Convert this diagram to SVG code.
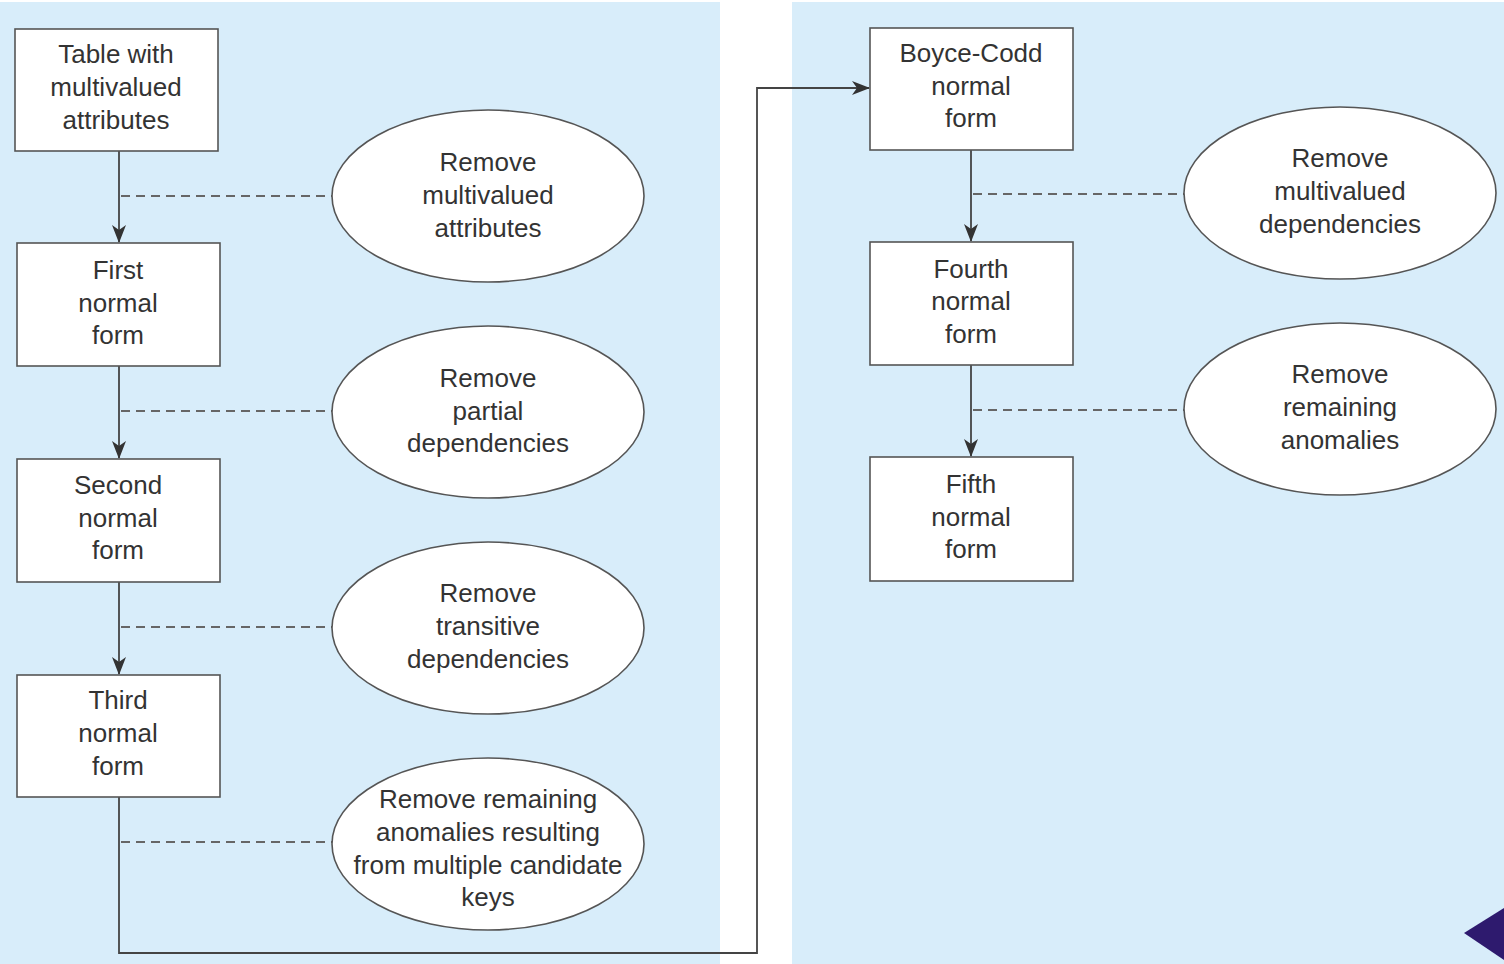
<svg xmlns="http://www.w3.org/2000/svg" width="1504" height="964" viewBox="0 0 1504 964">
<defs>
<style>
.bg{fill:#d8edfa}
.box{fill:#fff;stroke:#555;stroke-width:1.6}
.ell{fill:#fff;stroke:#555;stroke-width:1.6}
.t{font-family:"Liberation Sans",Arial,sans-serif;font-size:26px;fill:#333;text-anchor:middle}
.ln{fill:none;stroke:#444;stroke-width:1.8}
.dash{fill:none;stroke:#666;stroke-width:1.8;stroke-dasharray:9 6}
</style>
<marker id="ah" viewBox="0 0 18 14" refX="17" refY="7" markerWidth="18" markerHeight="14" markerUnits="userSpaceOnUse" orient="auto">
<path d="M0,0 L18,7 L0,14 L5,7 z" fill="#333"/>
</marker>
</defs>
<rect width="1504" height="964" fill="#fff"/>
<rect class="bg" x="0" y="2" width="720" height="962"/>
<rect class="bg" x="792" y="2" width="712" height="962"/>

<g id="connectors">
<line class="ln" x1="119" y1="151" x2="119" y2="242" marker-end="url(#ah)"/>
<line class="ln" x1="119" y1="366" x2="119" y2="458" marker-end="url(#ah)"/>
<line class="ln" x1="119" y1="582" x2="119" y2="674" marker-end="url(#ah)"/>
<polyline class="ln" points="119,797 119,953 757,953 757,88 869,88" marker-end="url(#ah)"/>
<line class="ln" x1="971" y1="150" x2="971" y2="241" marker-end="url(#ah)"/>
<line class="ln" x1="971" y1="365" x2="971" y2="456" marker-end="url(#ah)"/>
<line class="dash" x1="121" y1="196" x2="332" y2="196"/>
<line class="dash" x1="121" y1="411" x2="332" y2="411"/>
<line class="dash" x1="121" y1="627" x2="332" y2="627"/>
<line class="dash" x1="121" y1="842" x2="332" y2="842"/>
<line class="dash" x1="973" y1="194" x2="1184" y2="194"/>
<line class="dash" x1="973" y1="410" x2="1184" y2="410"/>
</g>

<g id="n-table"><rect class="box" x="15" y="29" width="203" height="122"/>
<text class="t" x="116" y="63">Table with</text><text class="t" x="116" y="96">multivalued</text><text class="t" x="116" y="129">attributes</text></g>
<g id="n-1nf"><rect class="box" x="17" y="243" width="203" height="123"/>
<text class="t" x="118" y="279">First</text><text class="t" x="118" y="312">normal</text><text class="t" x="118" y="344">form</text></g>
<g id="n-2nf"><rect class="box" x="17" y="459" width="203" height="123"/>
<text class="t" x="118" y="494">Second</text><text class="t" x="118" y="527">normal</text><text class="t" x="118" y="559">form</text></g>
<g id="n-3nf"><rect class="box" x="17" y="675" width="203" height="122"/>
<text class="t" x="118" y="709">Third</text><text class="t" x="118" y="742">normal</text><text class="t" x="118" y="775">form</text></g>
<g id="n-bcnf"><rect class="box" x="870" y="28" width="203" height="122"/>
<text class="t" x="971" y="62">Boyce-Codd</text><text class="t" x="971" y="95">normal</text><text class="t" x="971" y="127">form</text></g>
<g id="n-4nf"><rect class="box" x="870" y="242" width="203" height="123"/>
<text class="t" x="971" y="278">Fourth</text><text class="t" x="971" y="310">normal</text><text class="t" x="971" y="343">form</text></g>
<g id="n-5nf"><rect class="box" x="870" y="457" width="203" height="124"/>
<text class="t" x="971" y="493">Fifth</text><text class="t" x="971" y="526">normal</text><text class="t" x="971" y="558">form</text></g>

<g id="e-1"><ellipse class="ell" cx="488" cy="196" rx="156" ry="86"/>
<text class="t" x="488" y="171">Remove</text><text class="t" x="488" y="204">multivalued</text><text class="t" x="488" y="237">attributes</text></g>
<g id="e-2"><ellipse class="ell" cx="488" cy="412" rx="156" ry="86"/>
<text class="t" x="488" y="387">Remove</text><text class="t" x="488" y="420">partial</text><text class="t" x="488" y="452">dependencies</text></g>
<g id="e-3"><ellipse class="ell" cx="488" cy="628" rx="156" ry="86"/>
<text class="t" x="488" y="602">Remove</text><text class="t" x="488" y="635">transitive</text><text class="t" x="488" y="668">dependencies</text></g>
<g id="e-4"><ellipse class="ell" cx="488" cy="844" rx="156" ry="86"/>
<text class="t" x="488" y="808">Remove remaining</text><text class="t" x="488" y="841">anomalies resulting</text><text class="t" x="488" y="874">from multiple candidate</text><text class="t" x="488" y="906">keys</text></g>
<g id="e-5"><ellipse class="ell" cx="1340" cy="193" rx="156" ry="86"/>
<text class="t" x="1340" y="167">Remove</text><text class="t" x="1340" y="200">multivalued</text><text class="t" x="1340" y="233">dependencies</text></g>
<g id="e-6"><ellipse class="ell" cx="1340" cy="409" rx="156" ry="86"/>
<text class="t" x="1340" y="383">Remove</text><text class="t" x="1340" y="416">remaining</text><text class="t" x="1340" y="449">anomalies</text></g>

<polygon points="1464,933 1504,908 1504,960" fill="#2e1a6e"/>
</svg>
